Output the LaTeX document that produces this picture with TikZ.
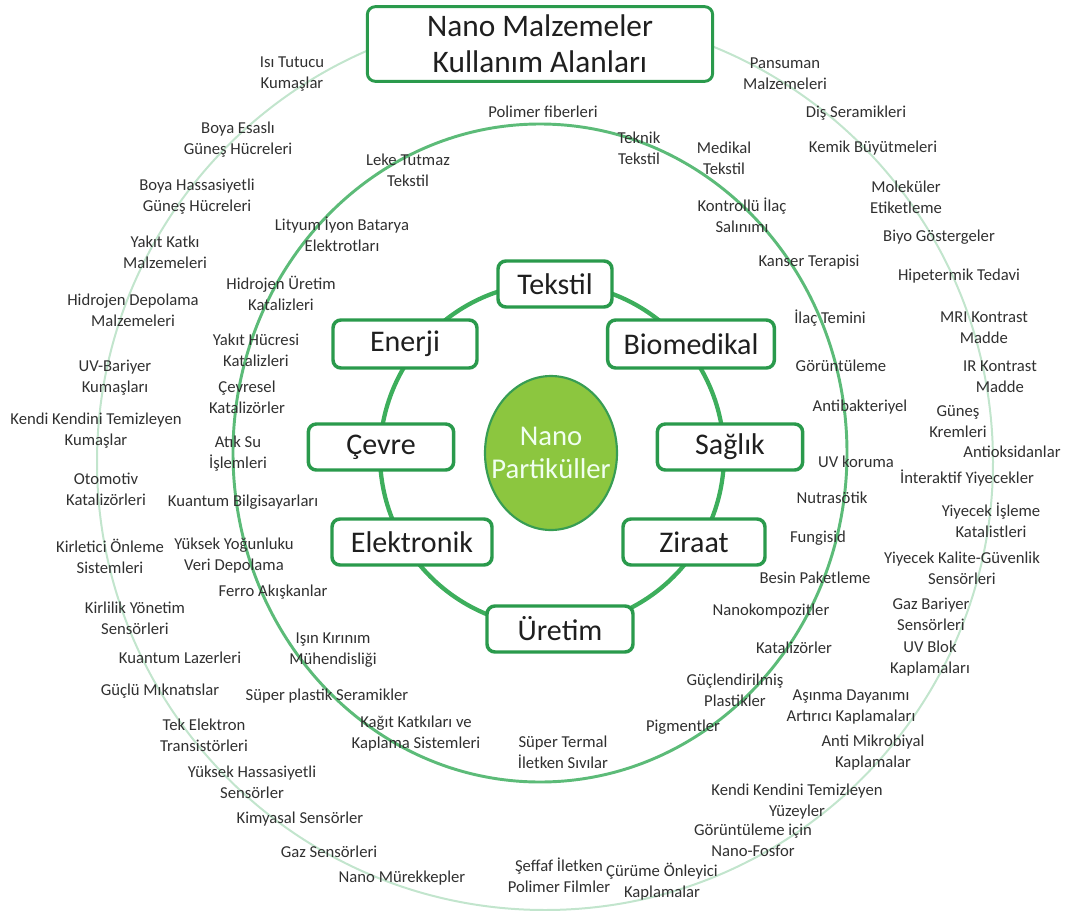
\documentclass[tikz,border=0pt]{standalone}
\usepackage{fontspec}
\setmainfont{Carlito}
\usepackage{tikz}

\definecolor{boxgreen}{HTML}{2A9A4C}
\definecolor{ringgreen}{HTML}{3DAE5C}
\definecolor{midgreen}{HTML}{5CBB78}
\definecolor{outgreen}{HTML}{C2E5CD}
\definecolor{limegreen}{HTML}{8CC63F}
\definecolor{labelgray}{HTML}{303030}

\tikzset{
  catbox/.style={draw=boxgreen, line width=2.6pt, rounded corners=6pt, fill=white,
    minimum height=34.5pt, inner sep=0pt, text=black!88,
    font=\fontsize{22.5}{26}\selectfont},
  titlebox/.style={catbox, line width=2.2pt, minimum width=259pt, minimum height=56pt,
    align=center, font=\fontsize{23.5}{27}\selectfont},
  app/.style={align=center, inner sep=1pt, text=labelgray,
    font=\fontsize{12.5}{15.75}\selectfont},
}

\begin{document}
\begin{tikzpicture}[x=0.75pt, y=-0.75pt]
\useasboundingbox (0,0) rectangle (1090,911);

%% halkalar (dis, orta, ic) %%%%%%%%%%%%%%%%
\draw[outgreen, line width=1.5pt] (545,462) circle (448);
\draw[midgreen, line width=2.2pt] (540,453) ellipse (307 and 329);
\draw[ringgreen, line width=3.2pt] (552,455) circle (172);

%% merkez %%%%%%%%%%%%%%%%%%%%%%%%%%%%%%%%%%
\filldraw[fill=limegreen, draw=ringgreen!90!black, line width=1.6pt] (551,453) ellipse (66 and 77);
\node[align=center, text=green!6!white, font=\fontsize{21.5}{25}\selectfont] (nano) at (551,453) {Nano\\Partiküller};

%% baslik %%%%%%%%%%%%%%%%%%%%%%%%%%%%%%%%%%
\node[titlebox] (title) at (540,44) {Nano Malzemeler\\Kullanım Alanları};

%% alanlar %%%%%%%%%%%%%%%%%%%%%%%%%%%%%%%%%
\node[catbox, minimum width=85.5pt] (tekstil) at (555,284) {Tekstil};
\node[catbox, minimum width=108pt, minimum height=36pt] (enerji) at (405,344) {Enerji};
\node[catbox, minimum width=125pt, minimum height=36pt] (biomedikal) at (691,344) {Biomedikal};
\node[catbox, minimum width=109pt] (cevre) at (381,447) {Çevre};
\node[catbox, minimum width=109pt] (saglik) at (730,447) {Sağlık};
\node[catbox, minimum width=120pt] (elektronik) at (412,542) {Elektronik};
\node[catbox, minimum width=106.5pt] (ziraat) at (694,542) {Ziraat};
\node[catbox, minimum width=109.5pt] (uretim) at (560,629) {Üretim};

%% uygulamalar %%%%%%%%%%%%%%%%%%%%%%%%%%%%%
\foreach \ax/\ay/\atxt [count=\i] in {
  292/74/{Isı Tutucu\\Kumaşlar}, 238/140/{Boya Esaslı\\Güneş Hücreleri},
  197/197/{Boya Hassasiyetli\\Güneş Hücreleri}, 165/252/{Yakıt Katkı\\Malzemeleri},
  133/310/{Hidrojen Depolama\\Malzemeleri}, 115/378/{UV-Bariyer\\Kumaşları},
  96/431/{Kendi Kendini Temizleyen\\Kumaşlar}, 106/489/{Otomotiv\\Katalizörleri},
  110/556/{Kirletici Önleme\\Sistemleri}, 135/618/{Kirlilik Yönetim\\Sensörleri},
  180/658/{Kuantum Lazerleri}, 160/691/{Güçlü Mıknatıslar},
  204/735/{Tek Elektron\\Transistörleri}, 252/782/{Yüksek Hassasiyetli\\Sensörler},
  300/819/{Kimyasal Sensörler}, 329/852/{Gaz Sensörleri},
  402/878/{Nano Mürekkepler}, 559/875/{Şeffaf İletken\\Polimer Filmler},
  662/882/{Çürüme Önleyici\\Kaplamalar}, 753/840/{Görüntüleme için\\Nano-Fosfor},
  797/802/{Kendi Kendini Temizleyen\\Yüzeyler}, 873/753/{Anti Mikrobiyal\\Kaplamalar},
  851/707/{Aşınma Dayanımı\\Artırıcı Kaplamaları}, 930/659/{UV Blok\\Kaplamaları},
  931/614/{Gaz Bariyer\\Sensörleri}, 962/568/{Yiyecek Kalite-Güvenlik\\Sensörleri},
  991/520/{Yiyecek İşleme\\Katalistleri}, 967/478/{İnteraktif Yiyecekler},
  1012/452/{Antioksidanlar}, 958/422/{Güneş\\Kremleri},
  1000/377/{IR Kontrast\\Madde}, 984/328/{MRI Kontrast\\Madde},
  959/276/{Hipetermik Tedavi}, 939/237/{Biyo Göstergeler},
  906/197/{Moleküler\\Etiketleme}, 873/148/{Kemik Büyütmeleri},
  856/113/{Diş Seramikleri}, 785/74/{Pansuman\\Malzemeleri},
  543/112/{Polimer fiberleri}, 408/170/{Leke Tutmaz\\Tekstil},
  639/148/{Teknik\\Tekstil}, 724/158/{Medikal\\Tekstil},
  742/215/{Kontrollü İlaç\\Salınımı}, 809/262/{Kanser Terapisi},
  342/234/{Lityum İyon Batarya\\Elektrotları}, 281/293/{Hidrojen Üretim\\Katalizleri},
  256/350/{Yakıt Hücresi\\Katalizleri}, 247/397/{Çevresel\\Katalizörler},
  238/454/{Atık Su\\İşlemleri}, 243/502/{Kuantum Bilgisayarları},
  234/556/{Yüksek Yoğunluku\\Veri Depolama}, 273/592/{Ferro Akışkanlar},
  333/650/{Işın Kırınım\\Mühendisliği}, 327/696/{Süper plastik Seramikler},
  416/734/{Kağıt Katkıları ve\\Kaplama Sistemleri}, 563/752/{Süper Termal\\İletken Sıvılar},
  683/727/{Pigmentler}, 735/690/{Güçlendirilmiş\\Plastikler},
  794/648/{Katalizörler}, 771/611/{Nanokompozitler},
  815/578/{Besin Paketleme}, 818/538/{Fungisid},
  832/498/{Nutrasötik}, 856/462/{UV koruma},
  860/407/{Antibakteriyel}, 841/366/{Görüntüleme},
  830/318/{İlaç Temini}}{
  \node[app] (app-\i) at (\ax,\ay) {\atxt};
}
\end{tikzpicture}
\end{document}
